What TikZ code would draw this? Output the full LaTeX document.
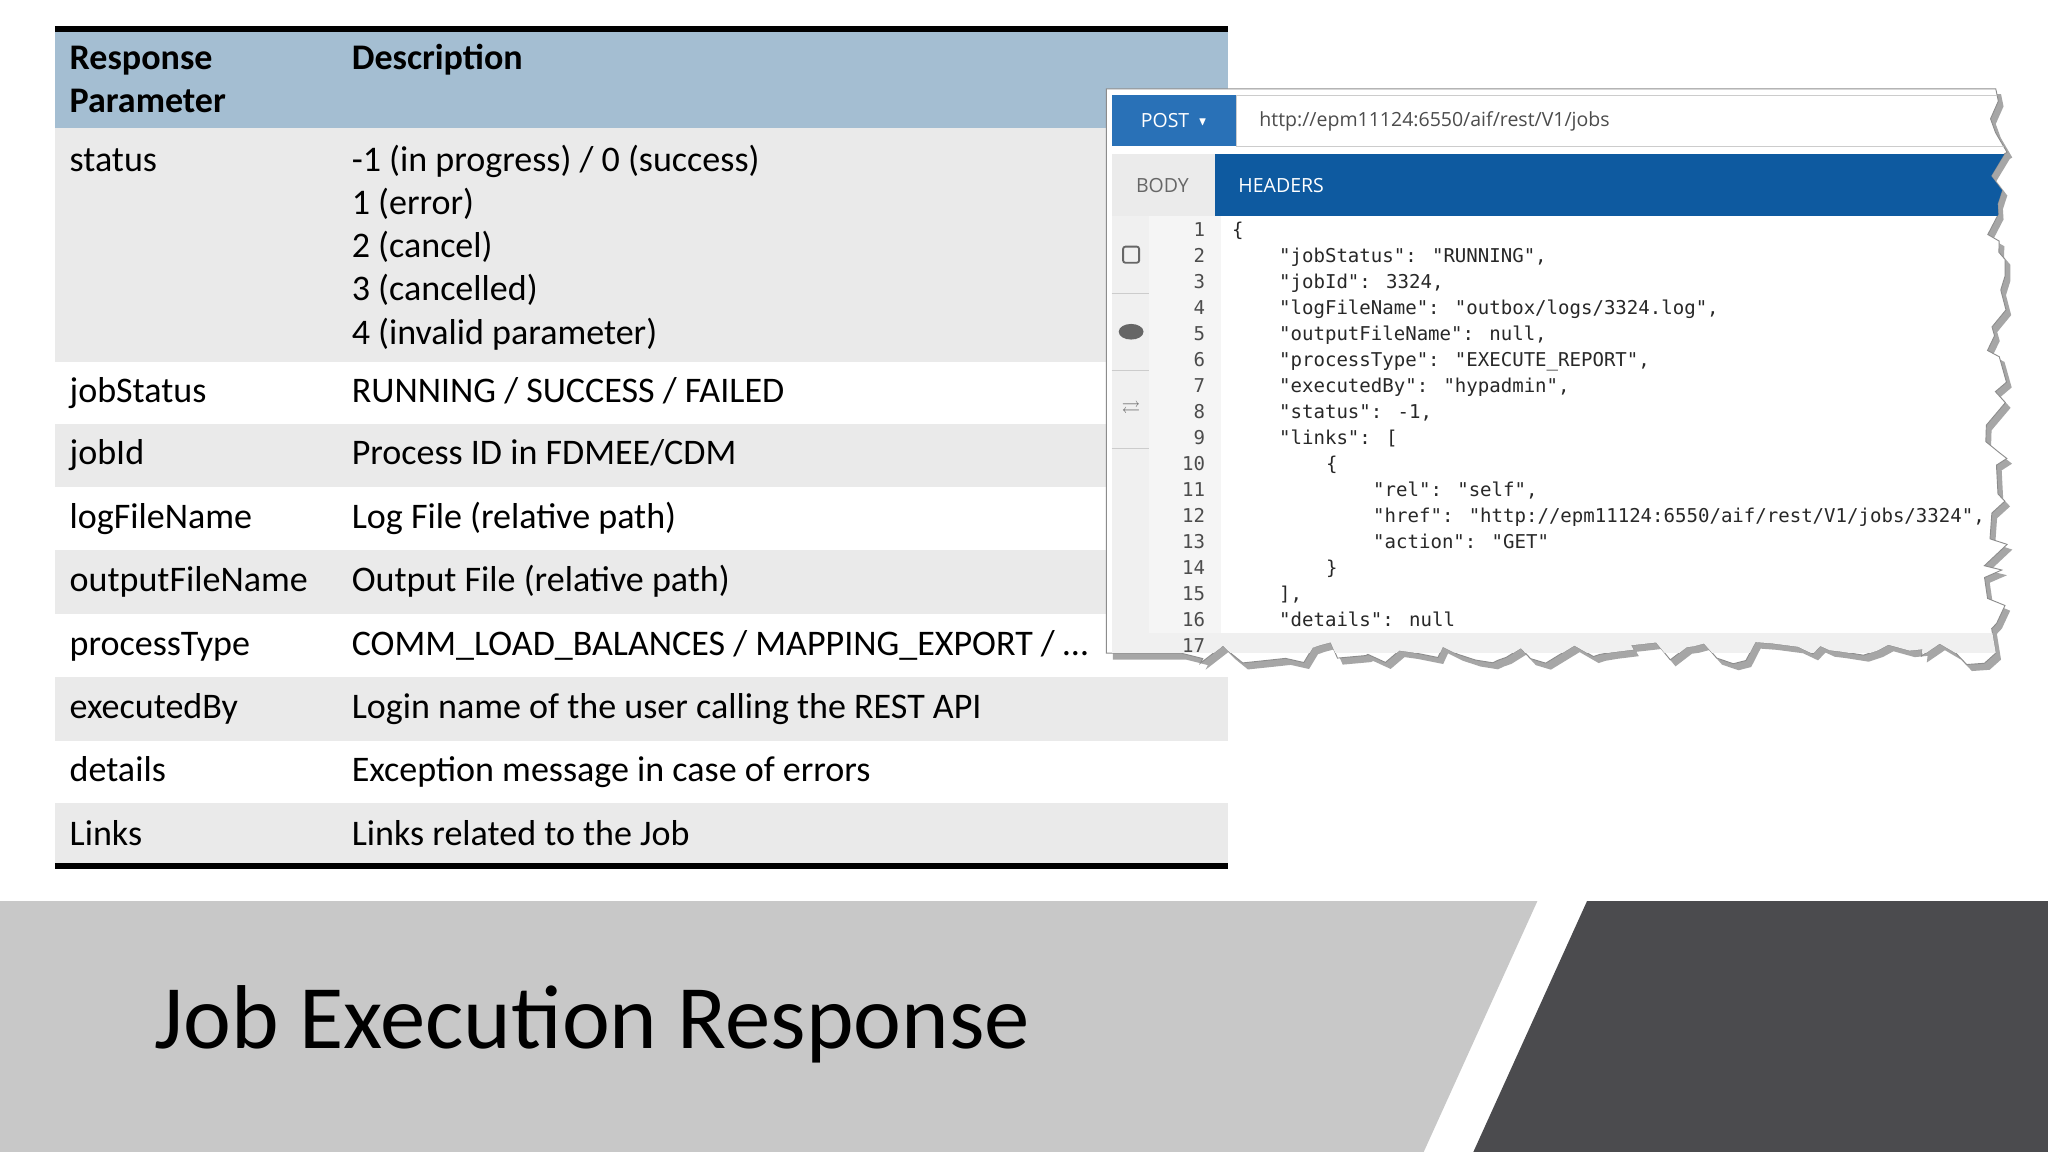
\documentclass[tikz,border=0pt]{standalone}
\usepackage{amssymb}
\usepackage{fontspec}
\setmainfont{Carlito}
\newfontfamily\codefont{DejaVu Sans Mono}
\newfontfamily\uifont{Open Sans}
\usetikzlibrary{decorations.pathmorphing,shapes.geometric}
\definecolor{hdr}{RGB}{164,190,210}
\definecolor{rowg}{RGB}{234,234,234}
\definecolor{postb}{RGB}{41,113,183}
\definecolor{tabb}{RGB}{14,90,160}
\definecolor{band}{RGB}{200,200,200}
\definecolor{dark}{RGB}{75,75,78}
\definecolor{codered}{RGB}{40,40,40}
\begin{document}
\begin{tikzpicture}[x=0.02cm,y=-0.02cm,
  cell/.style={anchor=base west,font=\fontsize{15.7}{19}\selectfont,inner sep=0pt},
  code/.style={anchor=base west,font=\codefont\fontsize{8.3}{10}\selectfont,inner sep=0pt},
  lnum/.style={anchor=base east,font=\codefont\fontsize{8.3}{10}\selectfont,inner sep=0pt,text=black!70}]
\useasboundingbox (0,0) rectangle (1568,882);
\fill[white] (0,0) rectangle (1568,882);
% table
\fill[hdr] (42,22) rectangle (940,98);
\fill[rowg] (42,98) rectangle (940,277);
\foreach \a/\b in {325/373,421/470,518/567,615/663}{\fill[rowg] (42,\a) rectangle (940,\b);}
\draw[line width=2.5pt] (42,22) -- (940,22);
\draw[line width=2.5pt] (42,663) -- (940,663);
\node[cell,font=\bfseries\fontsize{15.7}{19}\selectfont] (h1) at (53,53) {Response};
\node[cell,font=\bfseries\fontsize{15.7}{19}\selectfont] (h1b) at (53,86) {Parameter};
\node[cell,font=\bfseries\fontsize{15.7}{19}\selectfont] (h2) at (269,53) {Description};
\node[cell] (s) at (53,131) {status};
\node[cell] (s1) at (269,131) {-1 (in progress) / 0 (success)};
\node[cell] (s2) at (269,164) {1 (error)};
\node[cell] (s3) at (269,197) {2 (cancel)};
\node[cell] (s4) at (269,230) {3 (cancelled)};
\node[cell] (s5) at (269,264) {4 (invalid parameter)};
\foreach \y/\p/\d [count=\i] in {308/jobStatus/{RUNNING / SUCCESS / FAILED},
  356/jobId/{Process ID in FDMEE/CDM},
  405/logFileName/{Log File (relative path)},
  453/outputFileName/{Output File (relative path)},
  502/processType/{COMM\_LOAD\_BALANCES / MAPPING\_EXPORT / …},
  550/executedBy/{Login name of the user calling the REST API},
  598/details/{Exception message in case of errors},
  647/Links/{Links related to the Job}}{
  \node[cell] (p\i) at (53,\y) {\p};
  \node[cell] (d\i) at (269,\y) {\d};}
% screenshot panel
\pgfmathsetseed{7}
\fill[black!35] (852,72) -- (1532,72)
  decorate[decoration={random steps,segment length=6,amplitude=5}]{-- (1532,505) -- (908,505)} -- (852,505) -- cycle;
\pgfmathsetseed{7}
\fill[white,draw=black!45] (847,68) -- (1528,68)
  decorate[decoration={random steps,segment length=6,amplitude=5}]{-- (1528,500) -- (904,500)} -- (847,500) -- cycle;
\begin{scope}
\pgfmathsetseed{7}
\clip (847,68) -- (1528,68)
  decorate[decoration={random steps,segment length=6,amplitude=5}]{-- (1528,500) -- (904,500)} -- (847,500) -- cycle;
\fill[postb] (851,73) rectangle (947,112);
\node[anchor=center,text=white,font=\uifont\fontsize{8.5}{10}\selectfont] (post) at (899,92.5) {POST \,\raisebox{1pt}{\tiny$\blacktriangledown$}};
\draw[black!20] (947,73) rectangle (1540,112);
\node[anchor=west,text=black!70,font=\uifont\fontsize{8.5}{10}\selectfont] (url) at (958,93) {http://epm11124:6550/aif/rest/V1/jobs};
\fill[black!8] (851,118) rectangle (930,165);
\fill[tabb] (930,118) rectangle (1545,165);
\node[text=black!60,font=\uifont\fontsize{8.5}{10}\selectfont] (body) at (890,142) {BODY};
\node[anchor=west,text=white,font=\uifont\fontsize{8.5}{10}\selectfont] (headers) at (942,142) {HEADERS};
\fill[black!6] (851,165) rectangle (880,500);
\draw[black!20] (851,225) -- (880,225) (851,284) -- (880,284) (851,343) -- (880,343);
\fill[black!4] (880,165) rectangle (935,500);
\fill[black!6] (880,485) rectangle (1545,500);
\node[draw=black!60,rounded corners=1pt,minimum size=7pt,inner sep=0pt,line width=0.8pt] (ic1) at (866,195) {};
\node[draw=black!60,ellipse,minimum width=10pt,minimum height=6pt,inner sep=0pt,line width=0.8pt,fill=black!60] (ic2) at (866,254) {};
\node[font=\fontsize{8}{8}\selectfont,text=black!60] (ic3) at (866,313) {$\rightleftarrows$};
\foreach \t/\ind [count=\i] in {
 {\{}/0,
 {"jobStatus": "RUNNING",}/1,
 {"jobId": 3324,}/1,
 {"logFileName": "outbox/logs/3324.log",}/1,
 {"outputFileName": null,}/1,
 {"processType": "EXECUTE\_REPORT",}/1,
 {"executedBy": "hypadmin",}/1,
 {"status": -1,}/1,
 {"links": [}/1,
 {\{}/2,
 {"rel": "self",}/3,
 {"href": "http://epm11124:6550/aif/rest/V1/jobs/3324",}/3,
 {"action": "GET"}/3,
 {\}}/2,
 {],}/1,
 {"details": null}/1,
 {}/0}{
 \pgfmathsetmacro\yy{181+19.9*(\i-1)}
 \pgfmathsetmacro\xx{943+36*\ind}
 \node[lnum] (n\i) at (923,\yy) {\i};
 \node[code,text=codered] (c\i) at (\xx,\yy) {\t};}
\end{scope}
% bottom band
\fill[band] (0,690) -- (1177,690) -- (1090,882) -- (0,882) -- cycle;
\fill[dark] (1215,690) -- (1568,690) -- (1568,882) -- (1128,882) -- cycle;
\node[anchor=base west,inner sep=0pt,font=\fontsize{39.5}{48}\selectfont] (title) at (118,803) {Job Execution Response};
\end{tikzpicture}
\end{document}
